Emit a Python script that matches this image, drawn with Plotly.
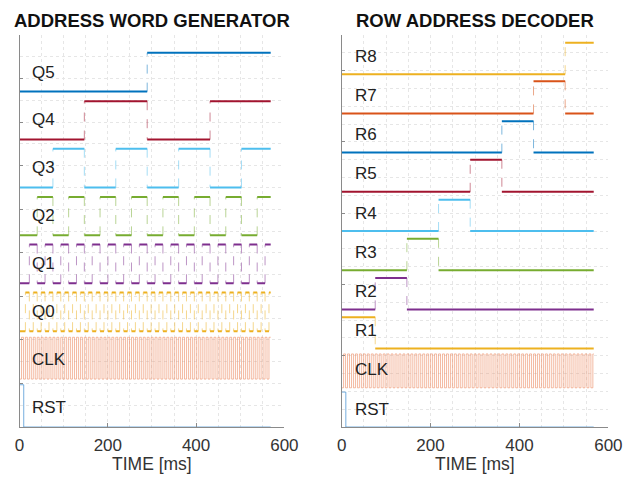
import plotly.graph_objects as go

# ---------------- data (times in ms) ----------------
T_END_LEFT = 569.0
T_END_RIGHT = 567.0

RST_EDGES = [9.5]
CLK_EDGES = [4.4, 8.85, 13.3, 17.75, 22.2, 26.65, 31.1, 35.55, 40.0, 44.45, 48.9, 53.35,
             57.8, 62.25, 66.7, 71.15, 75.6, 80.05, 84.5, 88.95, 93.4, 97.85, 102.3,
             106.75, 111.2, 115.65, 120.1, 124.55, 129.0, 133.45, 137.9, 142.35, 146.8,
             151.25, 155.7, 160.15, 164.6, 169.05, 173.5, 177.95, 182.4, 186.85, 191.3,
             195.75, 200.2, 204.65, 209.1, 213.55, 218.0, 222.45, 226.9, 231.35, 235.8,
             240.25, 244.7, 249.15, 253.6, 258.05, 262.5, 266.95, 271.4, 275.85, 280.3,
             284.75, 289.2, 293.65, 298.1, 302.55, 307.0, 311.45, 315.9, 320.35, 324.8,
             329.25, 333.7, 338.15, 342.6, 347.05, 351.5, 355.95, 360.4, 364.85, 369.3,
             373.75, 378.2, 382.65, 387.1, 391.55, 396.0, 400.45, 404.9, 409.35, 413.8,
             418.25, 422.7, 427.15, 431.6, 436.05, 440.5, 444.95, 449.4, 453.85, 458.3,
             462.75, 467.2, 471.65, 476.1, 480.55, 485.0, 489.45, 493.9, 498.35, 502.8,
             507.25, 511.7, 516.15, 520.6, 525.05, 529.5, 533.95, 538.4, 542.85, 547.3,
             551.75, 556.2, 560.65, 565.1]
Q0_EDGES = [13.3, 22.2, 31.1, 40.0, 48.9, 57.8, 66.7, 75.6, 84.5, 93.4, 102.3, 111.2,
            120.1, 129.0, 137.9, 146.8, 155.7, 164.6, 173.5, 182.4, 191.3, 200.2, 209.1,
            218.0, 226.9, 235.8, 244.7, 253.6, 262.5, 271.4, 280.3, 289.2, 298.1, 307.0,
            315.9, 324.8, 333.7, 342.6, 351.5, 360.4, 369.3, 378.2, 387.1, 396.0, 404.9,
            413.8, 422.7, 431.6, 440.5, 449.4, 458.3, 467.2, 476.1, 485.0, 493.9, 502.8,
            511.7, 520.6, 529.5, 538.4, 547.3, 556.2, 565.1]
Q1_EDGES = [22.2, 40.0, 57.8, 75.6, 93.4, 111.2, 129.0, 146.8, 164.6, 182.4, 200.2,
            218.0, 235.8, 253.6, 271.4, 289.2, 307.0, 324.8, 342.6, 360.4, 378.2, 396.0,
            413.8, 431.6, 449.4, 467.2, 485.0, 502.8, 520.6, 538.4, 556.2]
Q2_EDGES = [40.0, 75.6, 111.2, 146.8, 182.4, 218.0, 253.6, 289.2, 324.8, 360.4, 396.0,
            431.6, 467.2, 502.8, 538.4]
Q3_EDGES = [75.6, 146.8, 218.0, 289.2, 360.4, 431.6, 502.8]
Q4_EDGES = [146.8, 289.2, 431.6]
Q5_EDGES = [289.2]

R1_EDGES = [75.6]
R2_EDGES = [75.6, 146.8]
R3_EDGES = [146.8, 218.0]
R4_EDGES = [218.0, 289.2]
R5_EDGES = [289.2, 360.4]
R6_EDGES = [360.4, 431.6]
R7_EDGES = [431.6, 502.8]
R8_EDGES = [502.8]

LEFT_NAMES = ["RST", "CLK", "Q0", "Q1", "Q2", "Q3", "Q4", "Q5"]
LEFT_EDGES = [RST_EDGES, CLK_EDGES, Q0_EDGES, Q1_EDGES, Q2_EDGES, Q3_EDGES, Q4_EDGES, Q5_EDGES]
LEFT_INIT = [1, 0, 0, 0, 0, 0, 0, 0]
LEFT_HIGH = [0.97, 0.96, 0.89, 0.89, 0.88, 0.89, 0.88, 0.89]

RIGHT_NAMES = ["RST", "CLK", "R1", "R2", "R3", "R4", "R5", "R6", "R7", "R8"]
RIGHT_EDGES = [RST_EDGES, CLK_EDGES, R1_EDGES, R2_EDGES, R3_EDGES, R4_EDGES,
               R5_EDGES, R6_EDGES, R7_EDGES, R8_EDGES]
RIGHT_INIT = [1, 0, 1, 0, 0, 0, 0, 0, 0, 0]
RIGHT_HIGH = [0.98, 0.95, 0.88, 0.88, 0.88, 0.88, 0.9, 0.88, 0.9, 0.88]

X_TICKS = [0, 200, 400, 600]

# ---------------- styling ----------------
PITCH = 1.1
C_BLUE, C_ORANGE, C_YELLOW, C_PURPLE = "#0072BD", "#D95319", "#EDB120", "#7E2F8E"
C_GREEN, C_LBLUE, C_RED = "#77AC30", "#4DBEEE", "#A2142F"
LEFT_COLORS = [C_BLUE, C_ORANGE, C_YELLOW, C_PURPLE, C_GREEN, C_LBLUE, C_RED, C_BLUE]
RIGHT_COLORS = [C_BLUE, C_ORANGE, C_YELLOW, C_PURPLE, C_GREEN, C_LBLUE, C_RED, C_BLUE,
                C_ORANGE, C_YELLOW]
FONT = "Liberation Sans, Arial, sans-serif"


def steps(edges, init, t_end):
    hx, hy, vx, vy = [], [], [], []
    level = init
    t_prev = 0.0
    for t in edges:
        hx += [t_prev, t, None]
        hy += [level, level, None]
        vx += [t, t, None]
        vy += [level, 1 - level, None]
        level = 1 - level
        t_prev = t
    hx += [t_prev, t_end, None]
    hy += [level, level, None]
    return hx, hy, vx, vy


def scale(vals, off, amp):
    return [None if v is None else off + v * amp for v in vals]


fig = go.Figure()


def add_panel(names, edges_list, inits, highs, colors, t_end, xa, ya):
    for i, (name, edges, init, amp, col) in enumerate(zip(names, edges_list, inits, highs, colors)):
        off = i * PITCH
        hx, hy, vx, vy = steps(edges, init, t_end)
        thin = name in ("CLK", "RST")
        if name == "CLK":
            lc = "rgba(236,140,100,0.6)"
        elif name == "RST":
            lc = "rgba(60,140,210,0.7)"
        else:
            lc = col
        fig.add_trace(go.Scatter(x=vx, y=scale(vy, off, amp), mode="lines", xaxis=xa, yaxis=ya,
                                 line=dict(color=lc, width=1, dash="solid" if thin else "dash"),
                                 opacity=1.0 if thin else 0.5, showlegend=False, hoverinfo="skip"))
        fig.add_trace(go.Scatter(x=hx, y=scale(hy, off, amp), mode="lines", xaxis=xa, yaxis=ya,
                                 line=dict(color=lc, width=1 if thin else 2),
                                 showlegend=False, hoverinfo="skip"))


add_panel(LEFT_NAMES, LEFT_EDGES, LEFT_INIT, LEFT_HIGH, LEFT_COLORS, T_END_LEFT, "x", "y")
add_panel(RIGHT_NAMES, RIGHT_EDGES, RIGHT_INIT, RIGHT_HIGH, RIGHT_COLORS, T_END_RIGHT, "x2", "y2")

W, H = 635, 477
y_dom = [1 - 427 / H, 1 - 35 / H]
grid = "#e6e6e6"


def xaxis(dom):
    return dict(domain=dom, range=[0, 600], tickvals=X_TICKS, ticks="inside", ticklen=4,
                tickcolor="#8a8a8a", showline=True, linecolor="#8a8a8a", linewidth=1,
                showgrid=True, gridcolor=grid, griddash="dot", gridwidth=1, zeroline=False,
                minor=dict(dtick=50, showgrid=True, gridcolor=grid, griddash="dot"),
                tickfont=dict(family=FONT, size=17, color="#333333"), ticklabelstandoff=3,
                fixedrange=True)


def yaxis(dom, rng, dt, anchor):
    return dict(domain=dom, range=rng, dtick=dt, tick0=0, ticks="inside", ticklen=3,
                tickcolor="#8a8a8a", showline=True, linecolor="#8a8a8a", linewidth=1,
                showticklabels=False, showgrid=True, gridcolor=grid, griddash="dot",
                zeroline=False, anchor=anchor,
                minor=dict(dtick=0.5, showgrid=True, gridcolor=grid, griddash="dot"),
                fixedrange=True)


xl = [15 / W, 288 / W]
xr = [347 / W, 622 / W]
fig.update_layout(
    width=W, height=H, autosize=False, margin=dict(l=0, r=0, t=0, b=0),
    paper_bgcolor="white", plot_bgcolor="white",
    xaxis=xaxis(xl) | dict(anchor="y"),
    yaxis=yaxis(y_dom, [0, 9], 1, "x"),
    xaxis2=xaxis(xr) | dict(anchor="y2"),
    yaxis2=yaxis(y_dom, [0, 11], 2, "x2"),
)

ann = []
for i, name in enumerate(LEFT_NAMES):
    ann.append(dict(x=24, y=i * PITCH + 0.45, xref="x", yref="y", text=name, showarrow=False,
                    xanchor="left", yanchor="middle", font=dict(family=FONT, size=17, color="#222222")))
for i, name in enumerate(RIGHT_NAMES):
    ann.append(dict(x=25, y=i * PITCH + 0.5, xref="x2", yref="y2", text=name, showarrow=False,
                    xanchor="left", yanchor="middle", font=dict(family=FONT, size=17, color="#222222")))
for cx, title in [((xl[0] + xl[1]) / 2, "ADDRESS WORD GENERATOR"),
                  ((xr[0] + xr[1]) / 2, "ROW ADDRESS DECODER")]:
    ann.append(dict(x=cx, y=1 - 21 / H, xref="paper", yref="paper", text="<b>" + title + "</b>",
                    showarrow=False, xanchor="center", yanchor="middle",
                    font=dict(family=FONT, size=18.5, color="#111111")))
    ann.append(dict(x=cx, y=1 - 464 / H, xref="paper", yref="paper", text="TIME [ms]",
                    showarrow=False, xanchor="center", yanchor="middle",
                    font=dict(family=FONT, size=17.5, color="#333333")))
fig.update_layout(annotations=ann)

fig.write_html("out.html")
